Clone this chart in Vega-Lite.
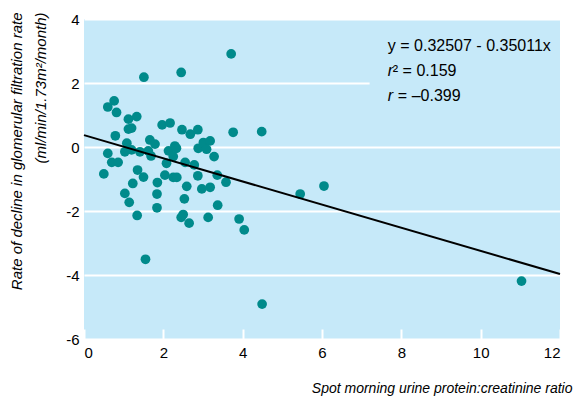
{
  "$schema": "https://vega.github.io/schema/vega-lite/v6.json",
  "width": 476,
  "height": 320,
  "autosize": "none",
  "padding": {"left": 84, "top": 19, "right": 13, "bottom": 57},
  "background": "white",
  "config": {"view": {"fill": "#c6e9f9", "stroke": null}, "font": "Liberation Sans"},
  "datasets": {
    "pts": [
      {"ratio": 1.51, "decline": 2.18}, {"ratio": 2.45, "decline": 2.33}, {"ratio": 3.71, "decline": 2.91},
      {"ratio": 0.76, "decline": 1.44}, {"ratio": 0.60, "decline": 1.25}, {"ratio": 0.82, "decline": 1.08},
      {"ratio": 1.12, "decline": 0.87}, {"ratio": 1.33, "decline": 0.95}, {"ratio": 1.12, "decline": 0.56},
      {"ratio": 1.20, "decline": 0.59}, {"ratio": 0.79, "decline": 0.35}, {"ratio": 1.97, "decline": 0.69},
      {"ratio": 2.17, "decline": 0.75}, {"ratio": 2.47, "decline": 0.54}, {"ratio": 2.68, "decline": 0.40},
      {"ratio": 2.87, "decline": 0.54}, {"ratio": 3.76, "decline": 0.46}, {"ratio": 4.48, "decline": 0.48},
      {"ratio": 1.08, "decline": 0.12}, {"ratio": 1.66, "decline": 0.22}, {"ratio": 1.79, "decline": 0.09},
      {"ratio": 0.60, "decline": -0.20}, {"ratio": 1.03, "decline": -0.15}, {"ratio": 1.20, "decline": -0.09},
      {"ratio": 1.41, "decline": -0.15}, {"ratio": 1.62, "decline": -0.12}, {"ratio": 1.69, "decline": -0.28},
      {"ratio": 2.13, "decline": -0.12}, {"ratio": 2.29, "decline": 0.03}, {"ratio": 2.25, "decline": -0.30},
      {"ratio": 2.33, "decline": -0.04},
      {"ratio": 2.08, "decline": -0.51}, {"ratio": 0.70, "decline": -0.48}, {"ratio": 0.86, "decline": -0.48},
      {"ratio": 0.50, "decline": -0.84}, {"ratio": 1.35, "decline": -0.72}, {"ratio": 1.50, "decline": -0.94},
      {"ratio": 2.88, "decline": -0.04}, {"ratio": 3.01, "decline": 0.14}, {"ratio": 3.18, "decline": 0.19},
      {"ratio": 3.09, "decline": -0.07}, {"ratio": 3.28, "decline": -0.30}, {"ratio": 2.55, "decline": -0.48},
      {"ratio": 2.78, "decline": -0.56}, {"ratio": 2.87, "decline": -0.90}, {"ratio": 2.04, "decline": -0.88},
      {"ratio": 2.25, "decline": -0.95}, {"ratio": 2.34, "decline": -0.95}, {"ratio": 3.36, "decline": -0.88},
      {"ratio": 3.58, "decline": -1.10}, {"ratio": 2.97, "decline": -1.31}, {"ratio": 3.18, "decline": -1.26},
      {"ratio": 2.59, "decline": -1.23}, {"ratio": 1.85, "decline": -1.11}, {"ratio": 1.23, "decline": -1.14},
      {"ratio": 1.03, "decline": -1.45}, {"ratio": 1.84, "decline": -1.47}, {"ratio": 2.53, "decline": -1.62},
      {"ratio": 1.14, "decline": -1.73}, {"ratio": 1.84, "decline": -1.90}, {"ratio": 1.34, "decline": -2.14},
      {"ratio": 2.45, "decline": -2.20}, {"ratio": 2.50, "decline": -2.11}, {"ratio": 2.65, "decline": -2.38},
      {"ratio": 3.13, "decline": -2.20}, {"ratio": 3.37, "decline": -1.82}, {"ratio": 3.91, "decline": -2.25},
      {"ratio": 4.04, "decline": -2.59}, {"ratio": 1.55, "decline": -3.51}, {"ratio": 5.45, "decline": -1.47},
      {"ratio": 6.05, "decline": -1.22}, {"ratio": 4.49, "decline": -4.91}, {"ratio": 11.03, "decline": -4.19}
    ],
    "fit": [
      {"ratio": 0, "decline": 0.37},
      {"ratio": 12, "decline": -3.97}
    ],
    "one": [{}]
  },
  "layer": [
    {
      "data": {"name": "pts"},
      "mark": {"type": "circle", "size": 95, "opacity": 1, "color": "#008a8b"},
      "encoding": {
        "x": {
          "field": "ratio", "type": "quantitative",
          "scale": {"domain": [0, 12], "nice": false},
          "axis": {
            "values": [0, 2, 4, 6, 8, 10, 12], "grid": false, "domain": false,
            "ticks": true, "tickColor": "white", "tickWidth": 2, "tickSize": -10,
            "labelFontSize": 15, "labelColor": "black", "labelPadding": 16,
            "title": "Spot morning urine protein:creatinine ratio",
            "titleFontStyle": "italic", "titleFontWeight": "normal", "titleFontSize": 14, "titleColor": "black",
            "titleX": 488, "titleY": 49, "titleAlign": "right", "titleBaseline": "middle"
          }
        },
        "y": {
          "field": "decline", "type": "quantitative",
          "scale": {"domain": [-6, 4], "nice": false},
          "axis": {
            "values": [-6, -4, -2, 0, 2, 4], "grid": true, "gridColor": "white", "gridWidth": 2, "gridOpacity": 1,
            "domain": false, "ticks": false,
            "labelExpr": "replace(datum.label, '−', '-')",
            "labelFontSize": 15, "labelColor": "black", "labelPadding": 5,
            "title": ["Rate of decline in glomerular filtration rate", "(ml/min/1.73m²/month)"],
            "titleFontStyle": "italic", "titleFontWeight": "normal", "titleFontSize": 15, "titleColor": "black",
            "titleAngle": 270, "titleAlign": "right", "titleBaseline": "top", "titleLineHeight": 24,
            "titleX": -75, "titleY": -7
          }
        }
      }
    },
    {
      "data": {"name": "one"},
      "mark": {"type": "rect", "color": "#c6e9f9"},
      "encoding": {
        "x": {"datum": 7.2}, "x2": {"datum": 12},
        "y": {"datum": 1.2}, "y2": {"datum": 3.8}
      }
    },
    {
      "data": {"name": "fit"},
      "mark": {"type": "line", "color": "black", "strokeWidth": 2},
      "encoding": {
        "x": {"field": "ratio", "type": "quantitative"},
        "y": {"field": "decline", "type": "quantitative"}
      }
    },
    {
      "data": {"name": "one"},
      "mark": {"type": "text", "align": "left", "baseline": "middle", "fontSize": 16, "color": "black"},
      "encoding": {
        "x": {"datum": 7.66}, "y": {"datum": 3.16},
        "text": {"value": "y = 0.32507 - 0.35011x"}
      }
    },
    {
      "data": {"name": "one"},
      "mark": {"type": "text", "align": "left", "baseline": "middle", "fontSize": 16, "fontStyle": "italic", "color": "black"},
      "encoding": {
        "x": {"datum": 7.66}, "y": {"datum": 2.375},
        "text": {"value": "r"}
      }
    },
    {
      "data": {"name": "one"},
      "mark": {"type": "text", "align": "left", "baseline": "middle", "fontSize": 16, "dx": 5, "color": "black"},
      "encoding": {
        "x": {"datum": 7.66}, "y": {"datum": 2.375},
        "text": {"value": "² = 0.159"}
      }
    },
    {
      "data": {"name": "one"},
      "mark": {"type": "text", "align": "left", "baseline": "middle", "fontSize": 16, "fontStyle": "italic", "color": "black"},
      "encoding": {
        "x": {"datum": 7.66}, "y": {"datum": 1.59},
        "text": {"value": "r"}
      }
    },
    {
      "data": {"name": "one"},
      "mark": {"type": "text", "align": "left", "baseline": "middle", "fontSize": 16, "dx": 10, "color": "black"},
      "encoding": {
        "x": {"datum": 7.66}, "y": {"datum": 1.59},
        "text": {"value": "= –0.399"}
      }
    }
  ]
}
